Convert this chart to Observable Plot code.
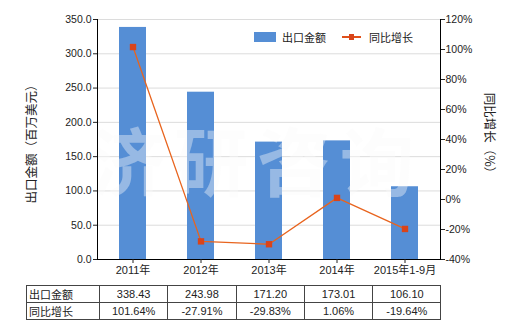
<!DOCTYPE html>
<html><head><meta charset="utf-8">
<script src="https://cdn.jsdelivr.net/npm/d3@7"></script>
<script src="https://cdn.jsdelivr.net/npm/@observablehq/plot@0.6"></script>
<style>
body{margin:0;background:#fff;font-family:"Liberation Sans","Noto Sans CJK SC",sans-serif;color:#222;}
#wrap{position:relative;width:520px;height:330px;overflow:hidden;}
#wrap svg{display:block;}
.ylab{position:absolute;white-space:nowrap;font-size:12.5px;font-family:"Noto Sans CJK SC",sans-serif;color:#222;}
.legend{position:absolute;top:30px;left:254px;font-size:11px;font-family:"Noto Sans CJK SC",sans-serif;display:flex;align-items:center;height:14px;}
.legend .sw{display:inline-block;width:22px;height:10px;background:#558ED5;margin-right:6px;}
.legend .ln{position:relative;display:inline-block;width:19px;height:2px;background:#E0501A;margin-left:16px;margin-right:8px;}
.legend .ln i{position:absolute;left:7px;top:-2px;width:5px;height:6px;background:#D9441A;}
table{position:absolute;left:26px;top:285px;border-collapse:collapse;font-size:11px;table-layout:fixed;}
td{border:1px solid #444;height:16px;padding:0;text-align:center;width:67.3px;line-height:16px;}
td.h{text-align:left;width:70px;padding-left:2px;font-family:"Noto Sans CJK SC",sans-serif;}
</style></head><body><div id="wrap"></div>
<script>
const categories = ["2011年","2012年","2013年","2014年","2015年1-9月"];
const exportValues = [338.43, 243.98, 171.20, 173.01, 106.10];
const growthRates = [101.64, -27.91, -29.83, 1.06, -19.64];
const exportLabels = ["338.43","243.98","171.20","173.01","106.10"];
const growthLabels = ["101.64%","-27.91%","-29.83%","1.06%","-19.64%"];
const leftTicks = [0, 50, 100, 150, 200, 250, 300, 350];
const rightTicks = [-40, -20, 0, 20, 40, 60, 80, 100, 120];
const seriesNames = ["出口金额", "同比增长"];
const leftTitle = "出口金额（百万美元）";
const rightTitle = "同比增长（%）";
const watermark = "济研咨询";

const leftMax = 350, rMin = -40, rMax = 120;
const toLeft = p => (p - rMin) * leftMax / (rMax - rMin);
const fromLeft = v => v * (rMax - rMin) / leftMax + rMin;

const data = categories.map((c, i) => ({c, v: exportValues[i], g: growthRates[i], gy: toLeft(growthRates[i])}));

const font = "'Liberation Sans','Noto Sans CJK SC',sans-serif";
const chart = Plot.plot({
  width: 520, height: 283,
  marginLeft: 97, marginRight: 80, marginTop: 19, marginBottom: 24,
  style: {fontFamily: font, fontSize: "10.5px", color: "#222", background: "transparent", overflow: "visible"},
  x: {domain: categories, paddingInner: 0.6, paddingOuter: 0.3, label: null},
  y: {domain: [0, leftMax], label: null},
  marks: [
    Plot.gridY(leftTicks, {stroke: "#dcdcdc", strokeOpacity: 1}),
    Plot.barY(data, {x: "c", y: "v", fill: "#558ED5"}),
    Plot.text([watermark], {frameAnchor: "middle", dx: -12, dy: 27, fontSize: 74, fontWeight: "bold",
      fill: "#fbfbfb", fillOpacity: 0.4, fontFamily: "'Noto Sans CJK SC',sans-serif"}),
    Plot.line(data, {x: "c", y: "gy", stroke: "#E8641E", strokeWidth: 1.3}),
    Plot.dot(data, {x: "c", y: "gy", symbol: "square", r: 3.6, fill: "#D9441A", stroke: "none"}),
    Plot.frame({anchor: "left", stroke: "#000"}),
    Plot.frame({anchor: "right", stroke: "#000"}),
    Plot.frame({anchor: "bottom", stroke: "#000"}),
    Plot.axisY(leftTicks, {anchor: "left", tickSize: 4, tickPadding: 2, tickFormat: d => d.toFixed(1), label: null}),
    Plot.axisY(rightTicks.map(toLeft), {anchor: "right", tickSize: 4, tickPadding: 1,
      tickFormat: d => Math.round(fromLeft(d)) + "%", label: null}),
    Plot.axisX({tickSize: 4, tickPadding: 3, label: null, fontFamily: "'Liberation Sans','Noto Sans CJK SC',sans-serif", fontSize: 11})
  ]
});
const wrap = document.getElementById("wrap");
wrap.appendChild(chart);
d3.select(chart).selectAll("text").filter(function(){return this.textContent === watermark;}).style("letter-spacing", "9px");

// axis titles
const lt = document.createElement("div");
lt.className = "ylab"; lt.textContent = leftTitle;
lt.style.left = "30px"; lt.style.top = "141px"; lt.style.transform = "translate(-50%,-50%) rotate(-90deg)";
wrap.appendChild(lt);
const rt = document.createElement("div");
rt.className = "ylab"; rt.textContent = rightTitle;
rt.style.left = "490px"; rt.style.top = "136px"; rt.style.transform = "translate(-50%,-50%) rotate(90deg)";
wrap.appendChild(rt);

// legend
const lg = document.createElement("div");
lg.className = "legend";
lg.innerHTML = `<span class="sw"></span><span>${seriesNames[0]}</span><span class="ln"><i></i></span><span>${seriesNames[1]}</span>`;
wrap.appendChild(lg);

// table
const tb = document.createElement("table");
const rows = [[seriesNames[0], exportLabels], [seriesNames[1], growthLabels]];
for (const [name, vals] of rows) {
  const tr = document.createElement("tr");
  const th = document.createElement("td"); th.className = "h"; th.textContent = name; tr.appendChild(th);
  for (const v of vals) { const td = document.createElement("td"); td.textContent = v; tr.appendChild(td); }
  tb.appendChild(tr);
}
wrap.appendChild(tb);
</script></body></html>
